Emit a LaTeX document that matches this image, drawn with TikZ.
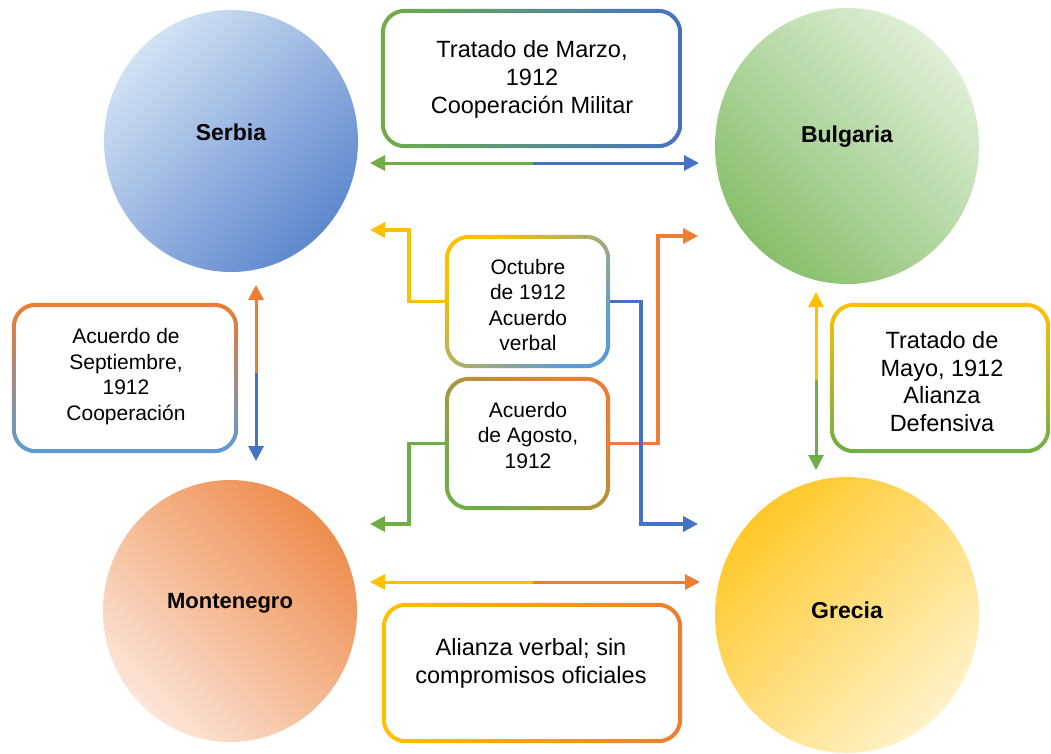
\documentclass[tikz,border=0pt]{standalone}
\usepackage{fontspec}
\setmainfont{Liberation Sans}
\usetikzlibrary{arrows.meta,shapes.geometric}
\definecolor{cOr}{HTML}{ED7D31}
\definecolor{cBl}{HTML}{4472C4}
\definecolor{cLb}{HTML}{5B9BD5}
\definecolor{cGr}{HTML}{70AD47}
\definecolor{cYe}{HTML}{FFC000}
\definecolor{sL}{HTML}{D2E2F4}\definecolor{sM}{HTML}{AFCCEB}\definecolor{sD}{HTML}{5E88CF}
\definecolor{bL}{HTML}{DFEFD8}\definecolor{bM}{HTML}{C0DEB1}\definecolor{bD}{HTML}{88BF6B}
\definecolor{mL}{HTML}{FCE5D7}\definecolor{mM}{HTML}{F6C5A5}\definecolor{mD}{HTML}{EE8D4E}
\definecolor{gL}{HTML}{FFF2C9}\definecolor{gM}{HTML}{FFE399}\definecolor{gD}{HTML}{FFC82A}
\tikzset{
  country/.style={ellipse, inner sep=0pt, draw=none},
  clabel/.style={inner sep=0pt, font=\bfseries\fontsize{23}{27}\selectfont},
  boxn/.style={inner sep=0pt, draw=none, rectangle},
  btxt/.style={inner sep=0pt, align=center},
  big/.style={font=\fontsize{23.5}{27.7}\selectfont},
  small/.style={font=\fontsize{21}{25.5}\selectfont},
  arr2/.style={line width=3pt, -{Triangle[length=15pt,width=15pt]}},
  arr3/.style={line width=3.5pt, -{Triangle[length=15pt,width=15pt]}},
}
\newcommand{\ringshade}[2]{%
  \shade[even odd rule, rounded corners=24pt, #2]
    (#1.south west) rectangle (#1.north east)
    [rounded corners=20pt]
    ([shift={(4pt,4pt)}]#1.south west) rectangle ([shift={(-4pt,-4pt)}]#1.north east);}
\begin{document}
\begin{tikzpicture}[x=1pt,y=-1pt]
\fill[white] (0,0) rectangle (1051,753);
\useasboundingbox (0,0) rectangle (1051,753);

% countries
\node[country, minimum width=254pt, minimum height=262pt,
  top color=sL, middle color=sM, bottom color=sD, shading angle=45] (serbia) at (231,141) {};
\node[country, minimum width=264pt, minimum height=276pt,
  top color=bL, middle color=bM, bottom color=bD, shading angle=-45] (bulgaria) at (847,146) {};
\node[country, minimum width=254pt, minimum height=262pt,
  top color=mD, middle color=mM, bottom color=mL, shading angle=-45] (montenegro) at (230,611) {};
\node[country, minimum width=264pt, minimum height=276pt,
  top color=gD, middle color=gM, bottom color=gL, shading angle=45] (grecia) at (847,615) {};

\node[clabel] (serbiaT) at (231,132) {Serbia};
\node[clabel] (bulgariaT) at (847,137) {Bulgaria};
\node[clabel, font=\bfseries\fontsize{22}{26}\selectfont] (montenegroT) at (230,603) {Montenegro};
\node[clabel] (greciaT) at (847,610) {Grecia};

% boxes
\node[boxn, minimum width=301pt, minimum height=139pt] (marzo) at (531.5,78.5) {};
\node[boxn, minimum width=165pt, minimum height=133pt] (oct) at (527.5,301.5) {};
\node[boxn, minimum width=165pt, minimum height=133pt] (ago) at (527.5,443.5) {};
\node[boxn, minimum width=226pt, minimum height=150pt] (sept) at (125,378) {};
\node[boxn, minimum width=220pt, minimum height=150pt] (mayo) at (940,378) {};
\node[boxn, minimum width=300pt, minimum height=140pt] (alianza) at (532,673) {};

\ringshade{marzo}{left color=cGr, right color=cBl}
\ringshade{oct}{top color=cYe, bottom color=cLb, shading angle=45}
\ringshade{ago}{top color=cOr, bottom color=cGr, shading angle=-45}
\ringshade{sept}{top color=cOr, bottom color=cLb}
\ringshade{mayo}{top color=cYe, bottom color=cGr}
\ringshade{alianza}{left color=cYe, right color=cOr}

\node[btxt, big] (marzoT) at (532,79.5) {Tratado de Marzo,\\1912\\Cooperación Militar};
\node[btxt, small] (octT) at (528,305) {Octubre\\de 1912\\Acuerdo\\verbal};
\node[btxt, small] (agoT) at (528,435) {Acuerdo\\de Agosto,\\1912};
\node[btxt, small] (septT) at (126,376.5) {Acuerdo de\\Septiembre,\\1912\\Cooperación};
\node[btxt, big] (mayoT) at (942,381.5) {Tratado de\\Mayo, 1912\\Alianza\\Defensiva};
\node[btxt, big] (alianzaT) at (531,663.5) {Alianza verbal; sin\\compromisos oficiales};

% straight two-colour arrows
\coordinate (sbL) at (370,163);
\coordinate (sbM) at (533,163);
\coordinate (sbR) at (699,163);
\draw[arr2, cGr] (sbM) -- (sbL);
\draw[arr2, cBl] (sbM) -- (sbR);

\coordinate (mgL) at (370,582);
\coordinate (mgM) at (533,582);
\coordinate (mgR) at (700,582);
\draw[arr2, cYe] (mgM) -- (mgL);
\draw[arr2, cOr] (mgM) -- (mgR);

\coordinate (smT) at (256,285);
\coordinate (smM) at (256,373);
\coordinate (smB) at (256,461);
\draw[arr2, cOr] (smM) -- (smT);
\draw[arr2, cBl] (smM) -- (smB);

\coordinate (bgT) at (816,292);
\coordinate (bgM) at (816,380);
\coordinate (bgB) at (816,470);
\draw[arr2, cYe] (bgM) -- (bgT);
\draw[arr2, cGr] (bgM) -- (bgB);

% elbow connectors
\coordinate (tY) at (370,230);
\coordinate (tG) at (370,524);
\coordinate (tO) at (698,236);
\coordinate (tB) at (698,524);
\draw[arr3, cYe] (oct.west) -- ++(-36,0) |- (tY);
\draw[arr3, cGr] (ago.west) -- ++(-36,0) |- (tG);
\draw[arr3, cOr] (ago.east) -- ++(48,0) |- (tO);
\draw[arr3, cBl] (oct.east) -- ++(31,0) |- (tB);
\end{tikzpicture}
\end{document}
